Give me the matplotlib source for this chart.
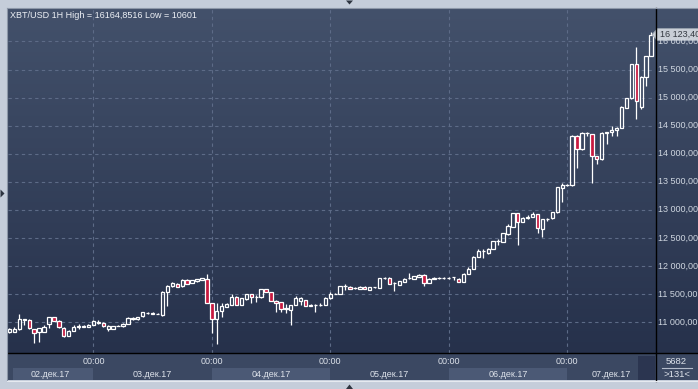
import matplotlib
matplotlib.use("Agg")
import matplotlib.pyplot as plt
import numpy as np
from matplotlib.patches import Rectangle, Polygon
from matplotlib.lines import Line2D

# ---------------- data (hourly candles, XBT/USD, from 02.12.17 07:00) ----------------
opens = [10816, 10815, 10870, 11030, 11040, 10875, 10815, 10830, 10965, 11085,
         11020, 10900, 10750, 10845, 10915, 10920, 10915, 10955, 10975, 10985,
         10880, 10880, 10930, 10925, 10965, 11045, 11045, 11100, 11160, 11155,
         11145, 11120, 11535, 11640, 11685, 11640, 11745, 11695, 11725, 11745,
         11765, 11335, 11050, 11200, 11275, 11305, 11450, 11305, 11405, 11500,
         11440, 11440, 11585, 11535, 11380, 11355, 11245, 11215, 11305, 11380,
         11395, 11290, 11300, 11303, 11305, 11420, 11500, 11500, 11643, 11630,
         11600, 11590, 11630, 11575, 11615, 11610, 11785, 11785, 11690, 11665,
         11715, 11780, 11770, 11805, 11845, 11695, 11775, 11780, 11783, 11780,
         11795, 11775, 11715, 11858, 11948, 12157, 12264, 12235, 12306, 12444,
         12426, 12563, 12701, 12934, 12785, 12862, 12880, 12922, 12665, 12833,
         12845, 12952, 13390, 13435, 13435, 14316, 14078, 14370, 14346, 13959,
         13900, 14376, 14388, 14417, 14465, 14822, 14988, 15595, 14834, 15369,
         15744]
highs = [10890, 10905, 11145, 11055, 11050, 10880, 10895, 10940, 11090, 11095,
         11030, 10905, 10855, 10945, 10960, 10950, 10960, 11040, 11030, 10995,
         10940, 10930, 10950, 10975, 11080, 11090, 11095, 11180, 11185, 11170,
         11160, 11545, 11655, 11710, 11700, 11770, 11760, 11750, 11775, 11790,
         11860, 11345, 11335, 11345, 11330, 11500, 11460, 11430, 11505, 11505,
         11480, 11590, 11590, 11540, 11390, 11365, 11320, 11310, 11465, 11450,
         11400, 11320, 11320, 11345, 11450, 11540, 11515, 11650, 11680, 11640,
         11615, 11640, 11640, 11625, 11630, 11790, 11800, 11795, 11705, 11735,
         11780, 11875, 11820, 11855, 11850, 11790, 11800, 11795, 11795, 11800,
         11805, 11780, 11865, 11985, 12170, 12305, 12295, 12312, 12450, 12486,
         12590, 12743, 12940, 12945, 12870, 12904, 12952, 12930, 12840, 12862,
         12960, 13410, 13485, 13460, 14330, 14330, 14385, 14388, 14355, 13965,
         14385, 14390, 14495, 14475, 14845, 15000, 15600, 15905, 15380, 15750,
         16164.85]
lows = [10800, 10815, 10865, 10950, 10880, 10620, 10650, 10825, 10885, 11015,
        10900, 10740, 10745, 10840, 10875, 10905, 10910, 10950, 10970, 10915,
        10835, 10870, 10920, 10915, 10960, 11035, 11035, 11095, 11150, 11140,
        11135, 11110, 11280, 11630, 11620, 11630, 11680, 11690, 11720, 11740,
        11330, 10800, 10601, 11095, 11265, 11295, 11295, 11295, 11400, 11345,
        11365, 11435, 11530, 11375, 11185, 11185, 11155, 10945, 11300, 11305,
        11280, 11280, 11185, 11290, 11295, 11415, 11490, 11495, 11570, 11585,
        11590, 11585, 11585, 11565, 11605, 11600, 11775, 11680, 11545, 11660,
        11710, 11760, 11760, 11800, 11640, 11690, 11765, 11770, 11770, 11775,
        11755, 11715, 11710, 11850, 11940, 12150, 12145, 12205, 12300, 12366,
        12420, 12555, 12695, 12372, 12780, 12833, 12875, 12593, 12522, 12803,
        12840, 12945, 13130, 13420, 13430, 13751, 14070, 14316, 13483, 13822,
        13890, 14179, 14316, 14316, 14460, 14810, 14980, 14626, 14792, 15209,
        15740]
closes = [10870, 10870, 11050, 11045, 10885, 10800, 10885, 10910, 11085, 11020,
          10905, 10750, 10845, 10915, 10920, 10915, 10955, 11020, 11005, 10925,
          10935, 10925, 10935, 10965, 11070, 11070, 11090, 11170, 11165, 11150,
          11140, 11540, 11650, 11695, 11625, 11755, 11685, 11740, 11765, 11785,
          11335, 11050, 11200, 11285, 11320, 11450, 11305, 11420, 11500, 11440,
          11445, 11585, 11535, 11380, 11345, 11225, 11240, 11305, 11420, 11420,
          11285, 11300, 11303, 11310, 11420, 11500, 11505, 11640, 11648, 11590,
          11602, 11630, 11590, 11615, 11620, 11785, 11790, 11685, 11695, 11725,
          11770, 11785, 11815, 11845, 11695, 11775, 11780, 11783, 11780, 11790,
          11798, 11720, 11858, 11948, 12163, 12264, 12270, 12306, 12444, 12450,
          12581, 12713, 12934, 12785, 12862, 12870, 12922, 12683, 12833, 12840,
          12952, 13401, 13450, 13440, 14316, 14078, 14376, 14360, 13959, 13900,
          14376, 14380, 14417, 14465, 14834, 14988, 15595, 14941, 15369, 15744,
          16123.4]

day_labels = ["02.дек.17", "03.дек.17", "04.дек.17", "05.дек.17", "06.дек.17", "07.дек.17"]
midnight_idx = [17, 41, 65, 89, 113]          # candles that open at 00:00
price_levels = [11000, 11500, 12000, 12500, 13000, 13500, 14000, 14500, 15000, 15500, 16000]
title = "XBT/USD 1H High = 16164,8516 Low = 10601"
counter_top, counter_bottom = "5682", ">131<"

# ---------------- layout ----------------
W, H = 698, 389
FONT = "Liberation Sans"
plt.rcParams['font.family'] = [FONT, 'DejaVu Sans']

fig = plt.figure(figsize=(W / 100, H / 100), dpi=100)
fig.patch.set_facecolor('#c5cdda')


def rect(x0, y0, x1, y1):
    return [x0 / W, 1 - y1 / H, (x1 - x0) / W, (y1 - y0) / H]


def fx(x):
    return x / W


def fy(y):
    return 1 - y / H


def bare(a):
    for s in a.spines.values():
        s.set_visible(False)
    a.set_xticks([])
    a.set_yticks([])


# gradient background for plot + price scale
bg = fig.add_axes(rect(8, 8, 698, 353))
g = np.linspace(0, 1, 256)[:, None, None]
top_c = np.array([0x43, 0x51, 0x6b]) / 255
bot_c = np.array([0x26, 0x31, 0x4b]) / 255
img = top_c + (bot_c - top_c) * g
bg.imshow(img, aspect='auto', extent=[0, 1, 0, 1], origin='upper', interpolation='bilinear')
bg.set_axis_off()

n = len(opens)
xlim = (-0.3, n - 1 + 0.8)
ylim = (10447, 16597)

ax = fig.add_axes(rect(8, 8, 655, 353))
ax.set_facecolor('none')
ax.set_xlim(*xlim)
ax.set_ylim(*ylim)
ax.set_axis_off()

grid_c = '#5d6b87'
for v in price_levels:
    ax.axhline(v, color=grid_c, lw=0.8, ls=(0, (3, 3)), zorder=1)
for i in midnight_idx:
    ax.axvline(i, color=grid_c, lw=0.8, ls=(0, (3, 3)), zorder=1)

red = '#c8193f'
bw = 0.68
for i, (o, h, l, c) in enumerate(zip(opens, highs, lows, closes)):
    top_b, bot_b = max(o, c), min(o, c)
    ax.plot([i, i], [top_b, h], color='white', lw=0.9, zorder=3, solid_capstyle='butt')
    ax.plot([i, i], [l, bot_b], color='white', lw=0.9, zorder=3, solid_capstyle='butt')
    fc = red if c < o else 'none'
    ax.add_patch(Rectangle((i - bw / 2, bot_b), bw, top_b - bot_b,
                           facecolor=fc, edgecolor='white', lw=0.9, zorder=4))

# price scale labels
lab_c = '#cfd6e0'
for v in price_levels:
    ypx = 353 - (v - ylim[0]) / (ylim[1] - ylim[0]) * 345
    s = f"{v:,.2f}".replace(",", " ").replace(".", ",")
    fig.text(fx(658), fy(ypx), s, color=lab_c, fontsize=6.5, va='center', ha='left')

# last price tag
last = closes[-1]
ty = 353 - (last - ylim[0]) / (ylim[1] - ylim[0]) * 345
tag = Polygon([(fx(652), fy(ty)), (fx(657.5), fy(ty - 6)), (fx(699), fy(ty - 6)),
               (fx(699), fy(ty + 6)), (fx(657.5), fy(ty + 6))], closed=True,
              transform=fig.transFigure, facecolor='#c9ced6', edgecolor='#9aa3b0', lw=0.6)
fig.add_artist(tag)
tag_s = f"{last:,.2f}".replace(",", " ").replace(".", ",")
fig.text(fx(660), fy(ty), tag_s, color='#333840', fontsize=6.5, va='center', ha='left')

# title
fig.text(fx(10), fy(15), title, color='#eef1f6', fontsize=6.5, va='center', ha='left')

# time axis
tax = fig.add_axes(rect(8, 353, 655, 380))
tax.set_facecolor('#3b4862')
tax.set_xlim(*xlim)
tax.set_ylim(380, 353)
bare(tax)
band_c = '#4b5975'
starts = [0.65] + midnight_idx
vis_starts = [xlim[0]] + midnight_idx
ends = midnight_idx + [xlim[1]]
for k, lab in enumerate(day_labels):
    if k % 2 == 0:
        tax.add_patch(Rectangle((starts[k], 367.5), ends[k] - starts[k], 12.5,
                                facecolor=band_c, edgecolor='none', zorder=1))
    cx = (vis_starts[k] + ends[k]) / 2
    tax.text(cx, 374.5, lab, color='#dde2ea', fontsize=6.5, ha='center', va='center', zorder=3)
for i in midnight_idx:
    tax.text(i, 362, "00:00", color='#dde2ea', fontsize=6.5, ha='center', va='center', zorder=3)

# dark block at the end of time axis
fig.add_artist(Rectangle((fx(637.5), fy(380)), fx(655) - fx(637.5), fy(356) - fy(380),
                         transform=fig.transFigure, facecolor='#2b3550', edgecolor='none'))

# counter cell
cax = fig.add_axes(rect(655, 353, 698, 380))
cax.set_facecolor('#3b4862')
cax.set_xlim(655, 698)
cax.set_ylim(380, 353)
bare(cax)
cax.text(676.5, 361.5, counter_top, color='#dde2ea', fontsize=6.8, ha='center', va='center')
cax.plot([662, 692], [368, 368], color='#b4bccb', lw=0.8)
cax.text(676.5, 374.5, counter_bottom, color='#dde2ea', fontsize=6.8, ha='center', va='center')

# separator lines
fig.add_artist(Line2D([fx(8), fx(698)], [fy(353), fy(353)], color='black', lw=1.0))
fig.add_artist(Line2D([fx(655.5), fx(655.5)], [fy(8), fy(380.5)], color='black', lw=1.0))
fig.add_artist(Line2D([fx(7.5), fx(7.5)], [fy(7.5), fy(381)], color='#8d97a8', lw=0.8))
fig.add_artist(Line2D([fx(7.5), fx(698)], [fy(7.5), fy(7.5)], color='#8d97a8', lw=0.8))
fig.add_artist(Line2D([fx(7.5), fx(698)], [fy(381), fy(381)], color='#e6eaf0', lw=0.8))

# small navigation triangles
tri_c = '#2d3440'
for pts in ([(346, 0.5), (353, 0.5), (349.5, 4.5)],
            [(346, 389), (353, 389), (349.5, 384.5)],
            [(0.5, 189.5), (0.5, 197.5), (4.5, 193.5)]):
    fig.add_artist(Polygon([(fx(a), fy(b)) for a, b in pts], closed=True,
                           transform=fig.transFigure, facecolor=tri_c, edgecolor='none'))

fig.savefig("out.png", dpi=100, facecolor=fig.get_facecolor())
